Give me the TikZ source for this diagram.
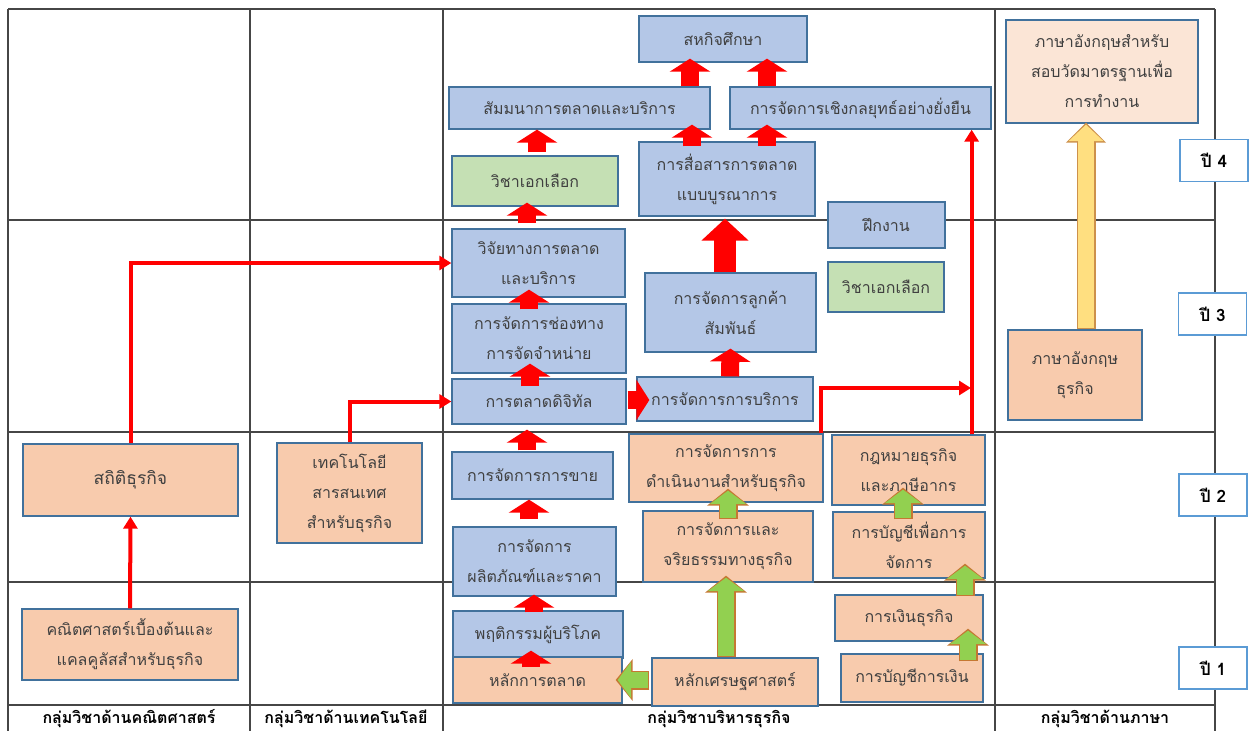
\documentclass[tikz,border=0pt]{standalone}
\usepackage{fontspec}
\setmainfont[Script=Thai]{Loma}
\usepackage{tikz}
\usetikzlibrary{arrows.meta, positioning, calc}
\definecolor{boxline}{RGB}{65,113,156}
\definecolor{bluef}{RGB}{180,199,231}
\definecolor{orangef}{RGB}{248,203,173}
\definecolor{greenf}{RGB}{197,224,180}
\definecolor{peachf}{RGB}{251,229,214}
\definecolor{yearline}{RGB}{91,155,213}
\definecolor{grfill}{RGB}{146,208,80}
\definecolor{grline}{RGB}{197,120,50}
\definecolor{ylfill}{RGB}{255,223,128}
\definecolor{ylline}{RGB}{205,145,75}
\definecolor{gridc}{RGB}{70,70,70}
\definecolor{txt}{RGB}{64,64,64}

\begin{document}
\begin{tikzpicture}[x=1pt, y=-1pt,
  bx/.style={draw=boxline, line width=1.3pt, fill=#1, align=center, inner sep=0pt, text=txt, font=\fontsize{16}{30}\selectfont},
  wh/.style 2 args={minimum width=#1pt, minimum height=#2pt},
  yr/.style={draw=yearline, line width=1.6pt, fill=white, minimum width=68pt, minimum height=42pt, font=\fontsize{17}{20}\selectfont\bfseries},
  hd/.style={font=\fontsize{16}{18}\selectfont\bfseries},
  grid/.style={draw=gridc, line width=1.1pt},
  rline/.style={draw=red, line width=4pt, -{Triangle[length=12pt, width=14pt]}},
  rarr/.style={draw=red, line width=18pt, -{Triangle[length=13pt, width=40pt]}},
  rbig/.style={draw=red, line width=22pt, -{Triangle[length=22pt, width=46pt]}},
  garr/.style={draw=grfill, line width=16pt, -{Triangle[length=13.5pt, width=36pt]}, shorten >=2pt, shorten <=1.4pt,
    preaction={draw=grline, line width=19pt, -{Triangle[length=17pt, width=41pt]}, shorten >=0pt, shorten <=0pt}},
  yarr/.style={draw=ylfill, line width=16pt, -{Triangle[length=16.5pt, width=34pt]}, shorten >=2pt, shorten <=1.4pt,
    preaction={draw=ylline, line width=19pt, -{Triangle[length=20pt, width=39pt]}, shorten >=0pt, shorten <=0pt}},
]
  \useasboundingbox (0,0) rectangle (1251,731);

  \draw[grid] (8,9) -- (1215,9);
  \draw[grid] (8,220) -- (1215,220);
  \draw[grid] (8,432) -- (1215,432);
  \draw[grid] (8,582) -- (1215,582);
  \draw[grid] (8,705) -- (1215,705);
  \draw[grid] (8,9) -- (8,731);
  \draw[grid] (250,9) -- (250,731);
  \draw[grid] (443,9) -- (443,731);
  \draw[grid] (995,9) -- (995,731);
  \draw[grid] (1215,9) -- (1215,731);

  \node[bx=orangef, wh={215}{72}, font=\fontsize{17.5}{30}\selectfont] (stat) at (130.5, 480) {สถิติธุรกิจ};
  \node[bx=orangef, wh={216}{71}] (math) at (130, 644.5) {คณิตศาสตร์เบื้องต้นและ\\แคลคูลัสสำหรับธุรกิจ};
  \node[bx=orangef, wh={145}{100}] (itbiz) at (349.5, 493) {เทคโนโลยี\\สารสนเทศ\\สำหรับธุรกิจ};

  \node[bx=bluef, wh={168}{46}] (coop) at (723, 39) {สหกิจศึกษา};
  \node[bx=bluef, wh={261}{42}] (semi) at (579.5, 108) {สัมมนาการตลาดและบริการ};
  \node[bx=bluef, wh={261}{42}] (strat) at (860.5, 108) {การจัดการเชิงกลยุทธ์อย่างยั่งยืน};
  \node[bx=greenf, wh={166}{50}] (elecA) at (535, 181) {วิชาเอกเลือก};
  \node[bx=bluef, wh={176}{74}] (imc) at (727, 179) {การสื่อสารการตลาด\\แบบบูรณาการ};
  \node[bx=bluef, wh={117}{46}] (intern) at (886.5, 225) {ฝึกงาน};
  \node[bx=greenf, wh={116}{50}] (elecB) at (886, 287) {วิชาเอกเลือก};
  \node[bx=bluef, wh={173}{68}] (rsch) at (538.5, 263) {วิจัยทางการตลาด\\และบริการ};
  \node[bx=bluef, wh={171}{79}] (crm) at (730.5, 312.5) {การจัดการลูกค้า\\สัมพันธ์};
  \node[bx=bluef, wh={174}{69}] (chan) at (539, 338.5) {การจัดการช่องทาง\\การจัดจำหน่าย};
  \node[bx=bluef, wh={174}{45}] (digi) at (539, 401.5) {การตลาดดิจิทัล};
  \node[bx=bluef, wh={176}{44}] (serv) at (725, 399) {การจัดการการบริการ};
  \node[bx=bluef, wh={161}{47}] (sale) at (532.5, 475.5) {การจัดการการขาย};
  \node[bx=bluef, wh={163}{69}] (prod) at (534.5, 561.5) {การจัดการ\\ผลิตภัณฑ์และราคา};
  \node[bx=bluef, wh={170}{47}] (cons) at (538, 634.5) {พฤติกรรมผู้บริโภค};
  \node[bx=orangef, wh={169}{46}] (mkt) at (537.5, 680) {หลักการตลาด};
  \node[bx=orangef, wh={194}{68}] (oper) at (726, 468) {การจัดการการ\\ดำเนินงานสำหรับธุรกิจ};
  \node[bx=orangef, wh={153}{70}] (law) at (908.5, 470) {กฎหมายธุรกิจ\\และภาษีอากร};
  \node[bx=orangef, wh={170}{71}] (ethic) at (728, 546.5) {การจัดการและ\\จริยธรรมทางธุรกิจ};
  \node[bx=orangef, wh={152}{66}] (macc) at (909, 545) {การบัญชีเพื่อการ\\จัดการ};
  \node[bx=orangef, wh={148}{46}] (fin) at (909, 618) {การเงินธุรกิจ};
  \node[bx=orangef, wh={166}{48}] (econ) at (735, 682) {หลักเศรษฐศาสตร์};
  \node[bx=orangef, wh={142}{48}] (facc) at (912, 678) {การบัญชีการเงิน};

  \node[bx=peachf, wh={192}{103}] (engT) at (1102, 71.5) {ภาษาอังกฤษสำหรับ\\สอบวัดมาตรฐานเพื่อ\\การทำงาน};
  \node[bx=orangef, wh={134}{90}] (engB) at (1075, 375) {ภาษาอังกฤษ\\ธุรกิจ};

  \node[yr] (y4) at (1214, 160.5) {ปี 4};
  \node[yr] (y3) at (1212.5, 314) {ปี 3};
  \node[yr] (y2) at (1213, 495) {ปี 2};
  \node[yr] (y1) at (1213, 668) {ปี 1};

  \node[hd] (hmath) at (129, 719) {กลุ่มวิชาด้านคณิตศาสตร์};
  \node[hd] (htech) at (346, 719) {กลุ่มวิชาด้านเทคโนโลยี};
  \node[hd] (hbus) at (719, 719) {กลุ่มวิชาบริหารธุรกิจ};
  \node[hd] (hlang) at (1105, 719) {กลุ่มวิชาด้านภาษา};

  \coordinate (jn) at (971, 388);
  \draw[rline] (math.north) -- (stat.south);
  \draw[rline] (stat.north) |- (rsch.west);
  \draw[rline] (itbiz.north) |- (digi.west);
  \draw[rline] ([xshift=-14pt]law.north east) -- ([xshift=-20pt]strat.south east);
  \draw[rline] ([xshift=-3pt]oper.north east) |- (jn);

  \draw[rarr] ([xshift=110.5pt]semi.north) -- ([xshift=-33pt, yshift=4pt]coop.south);
  \draw[rarr] ([xshift=-93.5pt]strat.north) -- ([xshift=44pt, yshift=4pt]coop.south);
  \draw[rarr] ([xshift=2pt, yshift=3pt]elecA.north) -- ([xshift=-42.5pt]semi.south);
  \draw[rarr] ([xshift=-35pt, yshift=-5pt]imc.north) -- ([xshift=112.5pt, yshift=5pt]semi.south);
  \draw[rarr] ([xshift=40pt, yshift=-5pt]imc.north) -- ([xshift=-93.5pt, yshift=5pt]strat.south);
  \draw[rarr] ([xshift=-11.5pt, yshift=5pt]rsch.north) -- ([xshift=-8pt, yshift=4pt]elecA.south);
  \draw[rbig] ([xshift=-5.5pt]crm.north) -- ([xshift=-2pt, yshift=-2pt]imc.south);
  \draw[rarr] ([xshift=-10pt, yshift=-6pt]chan.north) -- ([xshift=-9.5pt, yshift=8pt]rsch.south);
  \draw[rarr] ([xshift=-9pt, yshift=-8pt]digi.north) -- ([xshift=-9pt, yshift=10pt]chan.south);
  \draw[rarr] ([xshift=5pt]serv.north) -- ([yshift=4pt]crm.south);
  \draw[rarr] ([xshift=1pt, yshift=1.5pt]digi.east) -- ([xshift=13pt, yshift=-1pt]serv.west);
  \draw[rarr] ([xshift=-5.5pt, yshift=1pt]sale.north) -- ([xshift=-12pt, yshift=-5pt]digi.south);
  \draw[rarr] ([xshift=-5.5pt, yshift=7pt]prod.north) -- ([xshift=-3.5pt]sale.south);
  \draw[rarr] ([xshift=-4pt, yshift=-2pt]cons.north) -- ([xshift=-0.5pt, yshift=2pt]prod.south);
  \draw[rarr] ([xshift=-6.5pt, yshift=-11pt]mkt.north) -- ([xshift=-7pt, yshift=8pt]cons.south);

  \draw[garr] ([xshift=-9pt]econ.north) -- ([xshift=-2pt, yshift=7pt]ethic.south);
  \draw[garr] ([xshift=-2pt, yshift=2pt]econ.west) -- ([xshift=-7pt]mkt.east);
  \draw[garr] ([yshift=-9pt]ethic.north) -- ([xshift=2pt, yshift=14pt]oper.south);
  \draw[garr] ([xshift=-6pt, yshift=-8pt]macc.north) -- ([xshift=-5.5pt, yshift=18pt]law.south);
  \draw[garr] ([xshift=56pt, yshift=-2pt]fin.north) -- ([xshift=56pt, yshift=15pt]macc.south);
  \draw[garr] ([xshift=56pt, yshift=-8pt]facc.north) -- ([xshift=59pt, yshift=13pt]fin.south);

  \draw[yarr] ([xshift=11pt]engB.north) -- ([xshift=-16pt, yshift=1pt]engT.south);
\end{tikzpicture}
\end{document}
